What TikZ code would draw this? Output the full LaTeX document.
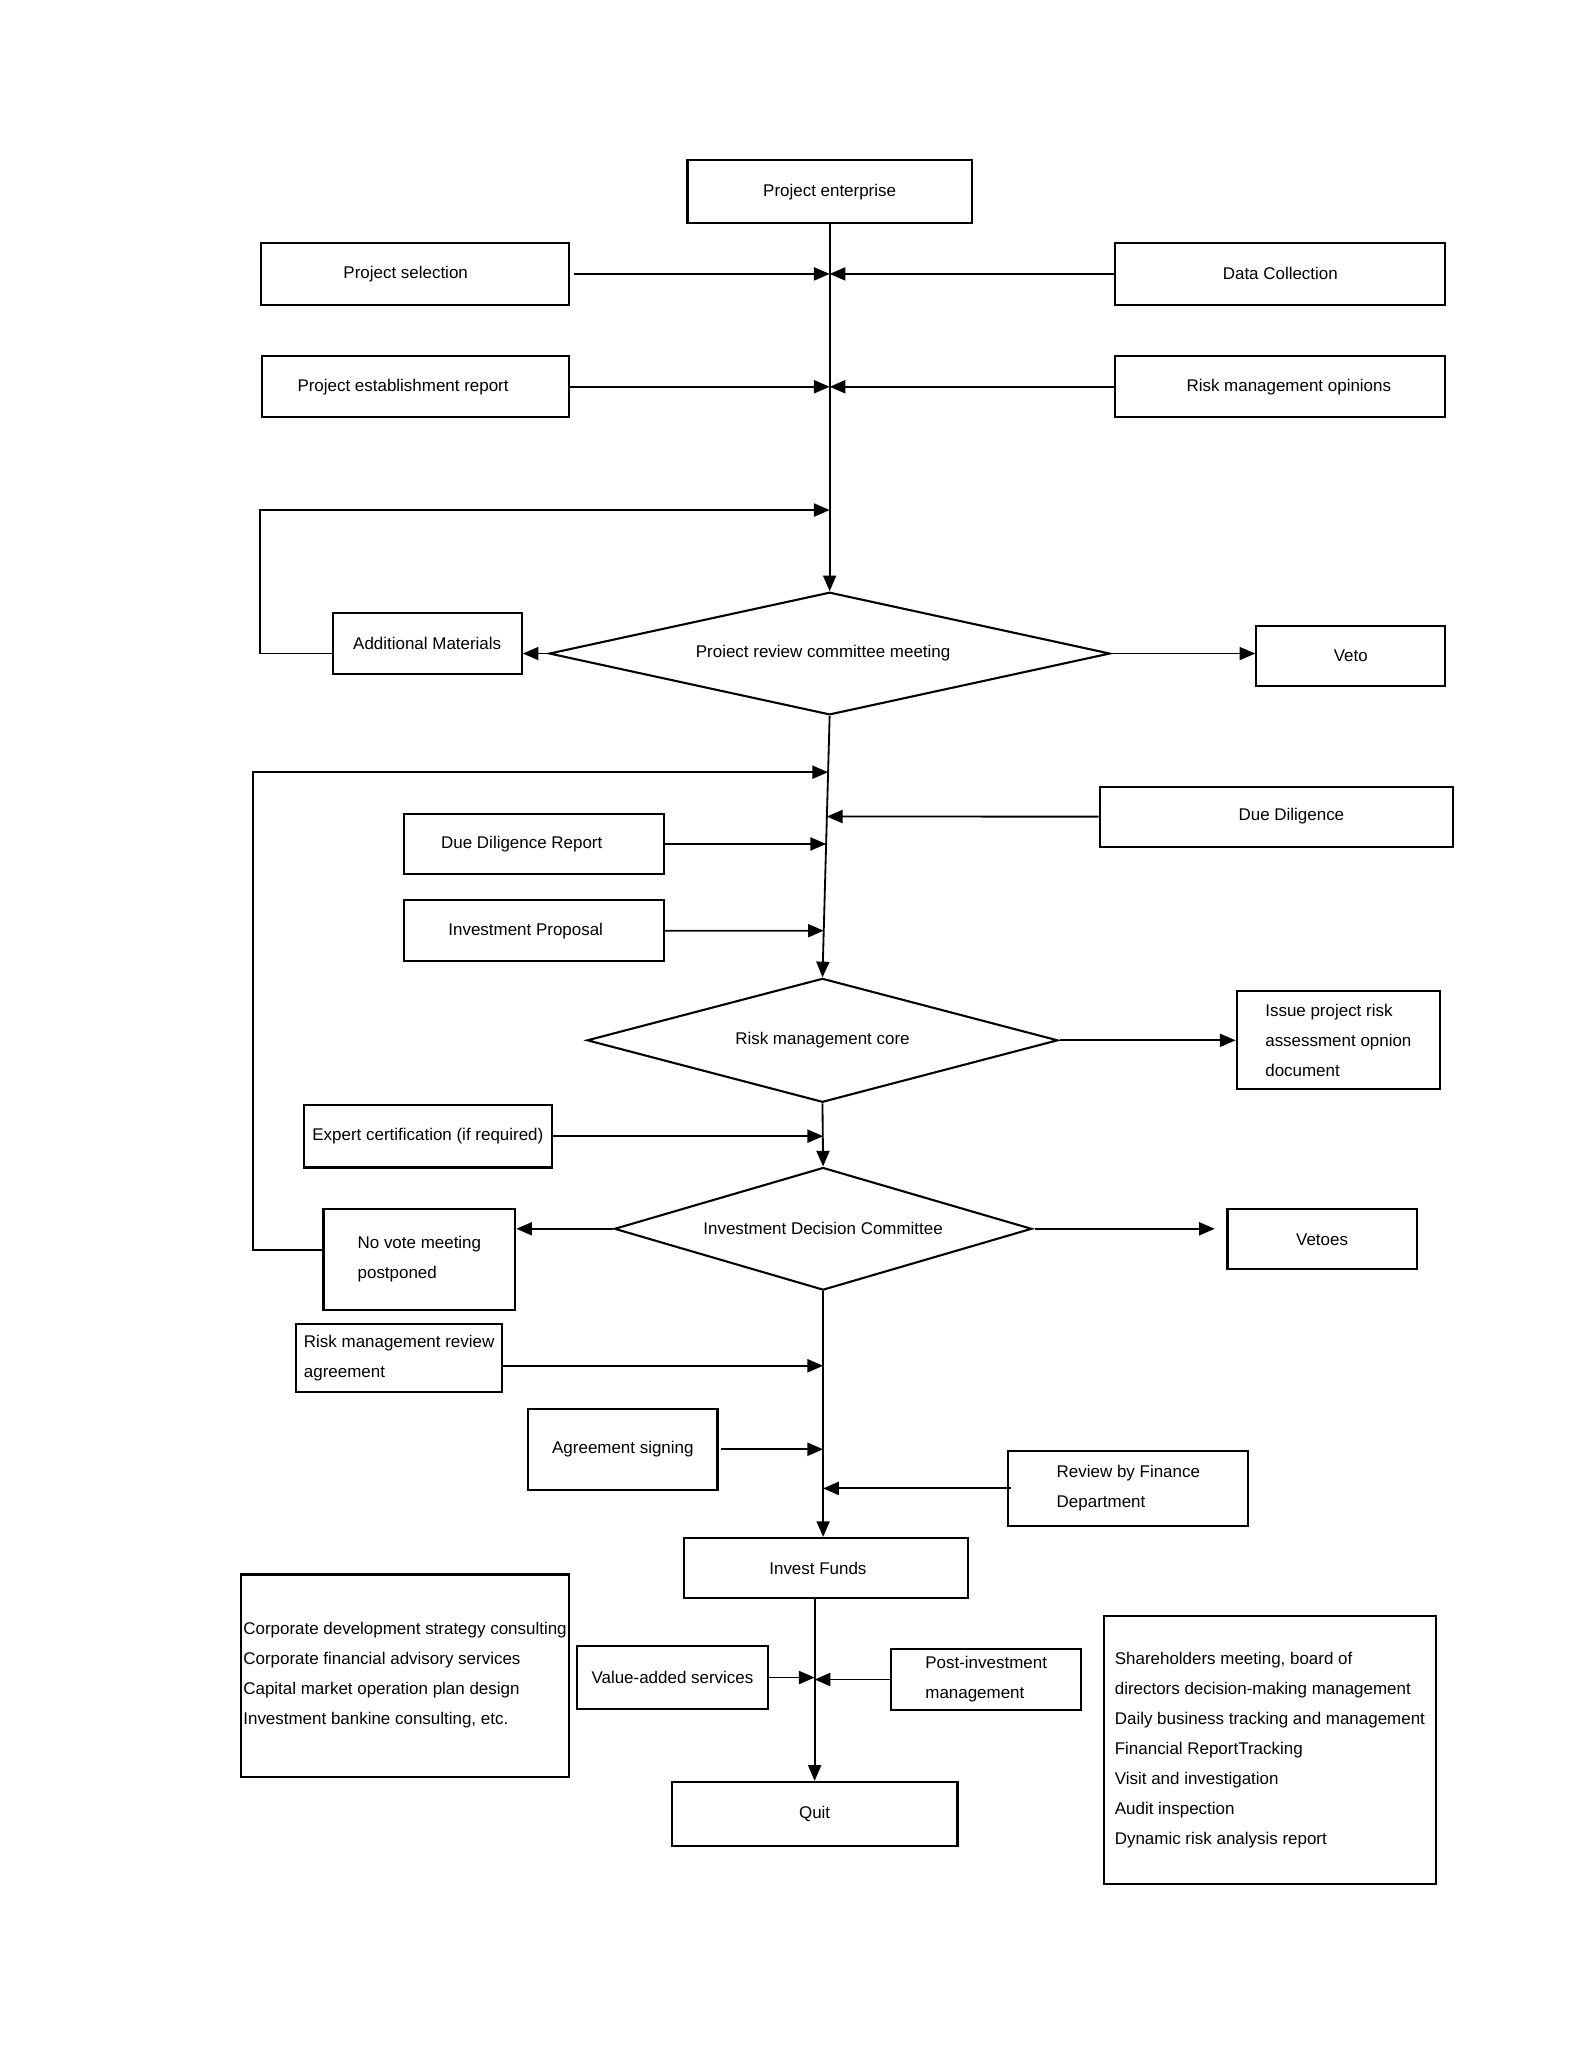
\documentclass[tikz,border=0pt]{standalone}
\usepackage{fontspec}
\setmainfont{Liberation Sans}
\usetikzlibrary{arrows.meta,shapes.geometric,calc}
\begin{document}
\begin{tikzpicture}[x=1pt,y=-1pt,
  box/.style={draw, line width=1.6pt, rectangle, inner sep=0pt, align=left,
              font=\fontsize{13}{23}\selectfont},
  dia/.style={draw, line width=1.6pt, diamond, inner sep=0pt,
              font=\fontsize{13}{23}\selectfont},
  arr/.style={line width=1.4pt, -{Triangle[length=12pt,width=10pt]}},
  ln/.style={line width=1.4pt}]
\useasboundingbox (0,0) rectangle (1216.6,1567.7);

% boxes
\node[box, minimum width=218pt, minimum height=48pt] (pe) at (636,147) {Project enterprise};
\node[box, minimum width=236pt, minimum height=48pt] (ps) at (318,210) {Project selection\hspace*{14pt}};
\node[box, minimum width=253pt, minimum height=48pt] (dc) at (981.5,210) {Data Collection};
\node[box, minimum width=235pt, minimum height=47pt] (per) at (318.5,296.5) {Project establishment report\hspace*{19pt}};
\node[box, minimum width=253pt, minimum height=47pt] (rmo) at (981.5,296.5) {\hspace*{13pt}Risk management opinions};
\node[box, minimum width=145pt, minimum height=47pt] (am) at (327.5,493.5) {Additional Materials};
\node[box, minimum width=145pt, minimum height=46pt] (veto) at (1035.5,503) {Veto};
\node[dia, aspect=4.57, minimum width=430pt, minimum height=94pt] (d1) at (636,501) {Proiect review committee meeting\hspace*{10pt}};

\node[box, minimum width=271pt, minimum height=46pt] (dd) at (978.5,626) {\hspace*{23pt}Due Diligence};
\node[box, minimum width=199pt, minimum height=46pt] (ddr) at (409.5,647) {Due Diligence Report\hspace*{19pt}};
\node[box, minimum width=199pt, minimum height=47pt] (ip) at (409.5,713.5) {Investment Proposal\hspace*{13pt}};
\node[dia, aspect=3.8, minimum width=361pt, minimum height=95pt] (d2) at (630.5,797.5) {Risk management core};
\node[box, minimum width=156pt, minimum height=75pt] (issue) at (1026,797.5) {Issue project risk\\assessment opnion\\document};
\node[box, minimum width=190pt, minimum height=48pt] (ec) at (328,871) {Expert certification (if required)};
\node[dia, aspect=3.4, minimum width=320pt, minimum height=94pt] (d3) at (631,942) {Investment Decision Committee};
\node[box, minimum width=147pt, minimum height=77pt] (nv) at (321.5,965.5) {No vote meeting\\postponed};
\node[box, minimum width=145pt, minimum height=46pt] (vetoes) at (1013.5,950) {Vetoes};

\node[box, minimum width=158pt, minimum height=52pt] (rmra) at (306,1041) {Risk management review\\agreement};
\node[box, minimum width=145pt, minimum height=62pt] (as) at (477.5,1111) {Agreement signing};
\node[box, minimum width=184pt, minimum height=58pt] (rf) at (865,1141) {Review by Finance\\Department};
\node[box, minimum width=218pt, minimum height=46pt] (if) at (633,1202) {Invest Funds\hspace*{12pt}};
\node[box, minimum width=251pt, minimum height=155pt] (lb) at (310.5,1284.5) {Corporate development strategy consulting\\Corporate financial advisory services\\Capital market operation plan design\\Investment bankine consulting, etc.};
\node[box, minimum width=147pt, minimum height=48pt] (vas) at (515.5,1286) {Value-added services};
\node[box, minimum width=146pt, minimum height=47pt] (pim) at (756,1287.5) {Post-investment\\management};
\node[box, minimum width=255pt, minimum height=205pt] (rb) at (973.5,1341.5) {Shareholders meeting, board of\\directors decision-making management\\Daily business tracking and management\\Financial ReportTracking\\Visit and investigation\\Audit inspection\\Dynamic risk analysis report};
\node[box, minimum width=219pt, minimum height=49pt] (q) at (624.5,1390.5) {Quit};

% junction coordinates
\coordinate (j1) at (636,391);
\coordinate (j2) at (intersection of d1.south--d2.north and 195,592--700,592);
\coordinate (jdd) at (intersection of d1.south--d2.north and dd.west--dd.east);
\coordinate (jddr) at (intersection of d1.south--d2.north and ddr.west--ddr.east);
\coordinate (jip) at (intersection of d1.south--d2.north and ip.west--ip.east);

% top section
\draw[arr] (pe.south) -- (d1.north);
\draw[arr] ([xshift=3pt]ps.east) -- (ps.east -| pe.south);
\draw[arr] (dc.west) -- (dc.west -| pe.south);
\draw[arr] (per.east) -- (per.east -| pe.south);
\draw[arr] (rmo.west) -- (rmo.west -| pe.south);
\draw[arr] (d1.west -| am.west) -- ++(-55,0) |- (j1);
\draw[arr] (d1.west) -- (d1.west -| am.east);
\draw[arr] (d1.east) -- (d1.east -| veto.west);

% middle section
\draw[arr] (d1.south) -- (d2.north);
\draw[arr] ([yshift=7.5pt]nv.west) -- ++(-53,0) |- (j2);
\draw[arr] (dd.west) -- (jdd);
\draw[arr] (ddr.east) -- (jddr);
\draw[arr] (ip.east) -- (jip);
\draw[arr] ([xshift=1pt]d2.east) -- (d2.east -| issue.west);
\draw[arr] (d2.south) -- (d3.north);
\draw[arr] (ec.east) -- (ec.east -| d3.north);
\draw[arr] (d3.west) -- (d3.west -| nv.east);
\draw[arr, shorten >=9pt] ([xshift=2pt]d3.east) -- (d3.east -| vetoes.west);

% lower section
\draw[arr] (d3.south) -- (d3.south |- if.north);
\draw[arr] ([yshift=-6pt]rmra.east) -- ([yshift=-6pt]rmra.east -| d3.south);
\draw[arr] ([xshift=2pt]as.east) -- (as.east -| d3.south);
\draw[arr] ([xshift=3pt]rf.west) -- (rf.west -| d3.south);
\draw[arr] (q.north |- if.south) -- (q.north);
\draw[arr] (vas.east) -- (vas.east -| q.north);
\draw[arr] (pim.west) -- (pim.west -| q.north);
\end{tikzpicture}
\end{document}
